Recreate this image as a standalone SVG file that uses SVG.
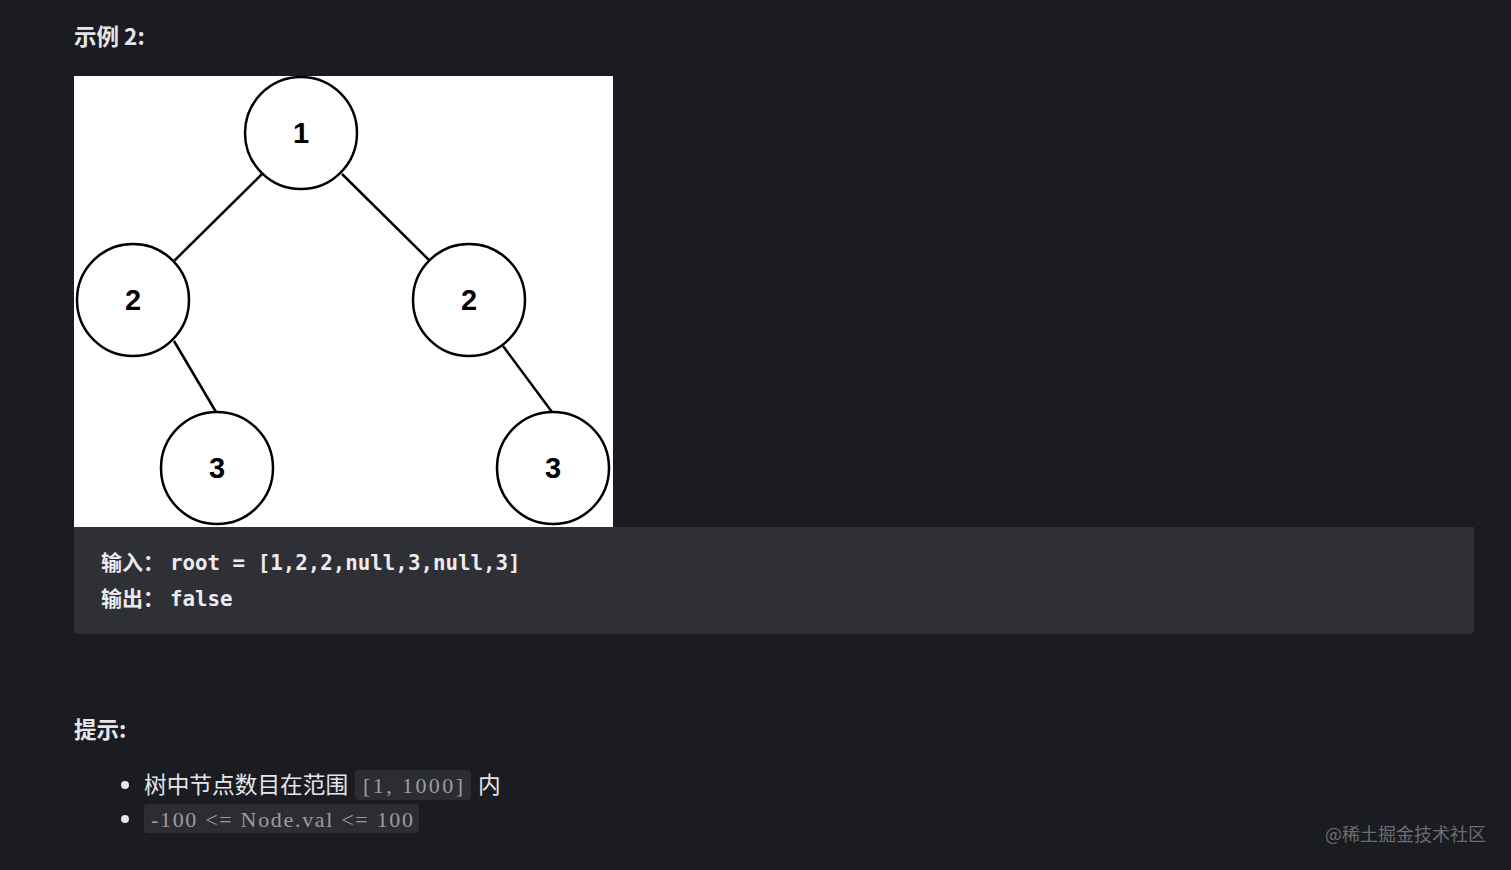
<svg xmlns="http://www.w3.org/2000/svg" width="1511" height="870" viewBox="0 0 1511 870">
<style>
.h{font-family:"Noto Sans CJK SC","Noto Sans",sans-serif;font-weight:bold;font-size:22.5px;fill:#e6e6ea}
.node circle{fill:#fff;stroke:#000;stroke-width:2.5}
.node text{font-family:"Liberation Sans",Arial,sans-serif;font-weight:bold;font-size:29px;fill:#000;text-anchor:middle}
.edges line{stroke:#000;stroke-width:2.5}
.cj{font-family:"Noto Sans CJK SC",sans-serif;font-size:21px;fill:#ececf0;font-weight:bold}
.code{font-family:"DejaVu Sans Mono",monospace;font-size:20.8px;fill:#ececf0;font-weight:bold}
.li{font-family:"Noto Sans CJK SC",sans-serif;font-size:22.7px;fill:#e6e6ea}
.ic{font-family:"Liberation Serif",serif;font-size:22px;fill:#9c9ca2}
.icbg{fill:#2c2d31}
</style>
<rect width="1511" height="870" fill="#1b1c21"/>
<text class="h" x="74" y="45">示例 2:</text>
<rect x="74" y="76" width="539" height="451" fill="#fff"/>
<g class="edges">
<line x1="262" y1="174" x2="174" y2="261"/>
<line x1="342" y1="174" x2="429" y2="260"/>
<line x1="174" y1="341" x2="216" y2="412"/>
<line x1="503" y1="346" x2="552" y2="412"/>
</g>
<g id="n1" class="node"><circle cx="301" cy="133" r="56"/><text x="301" y="143">1</text></g>
<g id="n2a" class="node"><circle cx="133" cy="300" r="56"/><text x="133" y="310">2</text></g>
<g id="n2b" class="node"><circle cx="469" cy="300" r="56"/><text x="469" y="310">2</text></g>
<g id="n3a" class="node"><circle cx="217" cy="468" r="56"/><text x="217" y="478">3</text></g>
<g id="n3b" class="node"><circle cx="553" cy="468" r="56"/><text x="553" y="478">3</text></g>
<path d="M74 527 H1474 V630 a4 4 0 0 1 -4 4 H78 a4 4 0 0 1 -4 -4 Z" fill="#2f3035"/>
<text class="cj" x="101" y="570">输入：</text>
<text class="code" x="170" y="570">root = [1,2,2,null,3,null,3]</text>
<text class="cj" x="101" y="606">输出：</text>
<text class="code" x="170" y="606">false</text>
<text class="h" x="74" y="738">提示:</text>
<circle cx="125" cy="785" r="4" fill="#e6e6ea"/>
<circle cx="125" cy="819" r="4" fill="#e6e6ea"/>
<text class="li" x="144" y="793">树中节点数目在范围</text>
<rect class="icbg" x="355" y="770" width="116" height="30" rx="4"/>
<text class="ic" x="363" y="793" textLength="100" lengthAdjust="spacing">[1,  1000]</text>
<text class="li" x="478" y="793">内</text>
<rect class="icbg" x="144" y="804" width="275" height="29" rx="4"/>
<text class="ic" x="151" y="827" textLength="262" lengthAdjust="spacing">-100 &lt;= Node.val &lt;= 100</text>
<text x="1325" y="841" font-family="Noto Sans CJK SC,sans-serif" font-size="18" fill="#6c6c72">@稀土掘金技术社区</text>
</svg>
